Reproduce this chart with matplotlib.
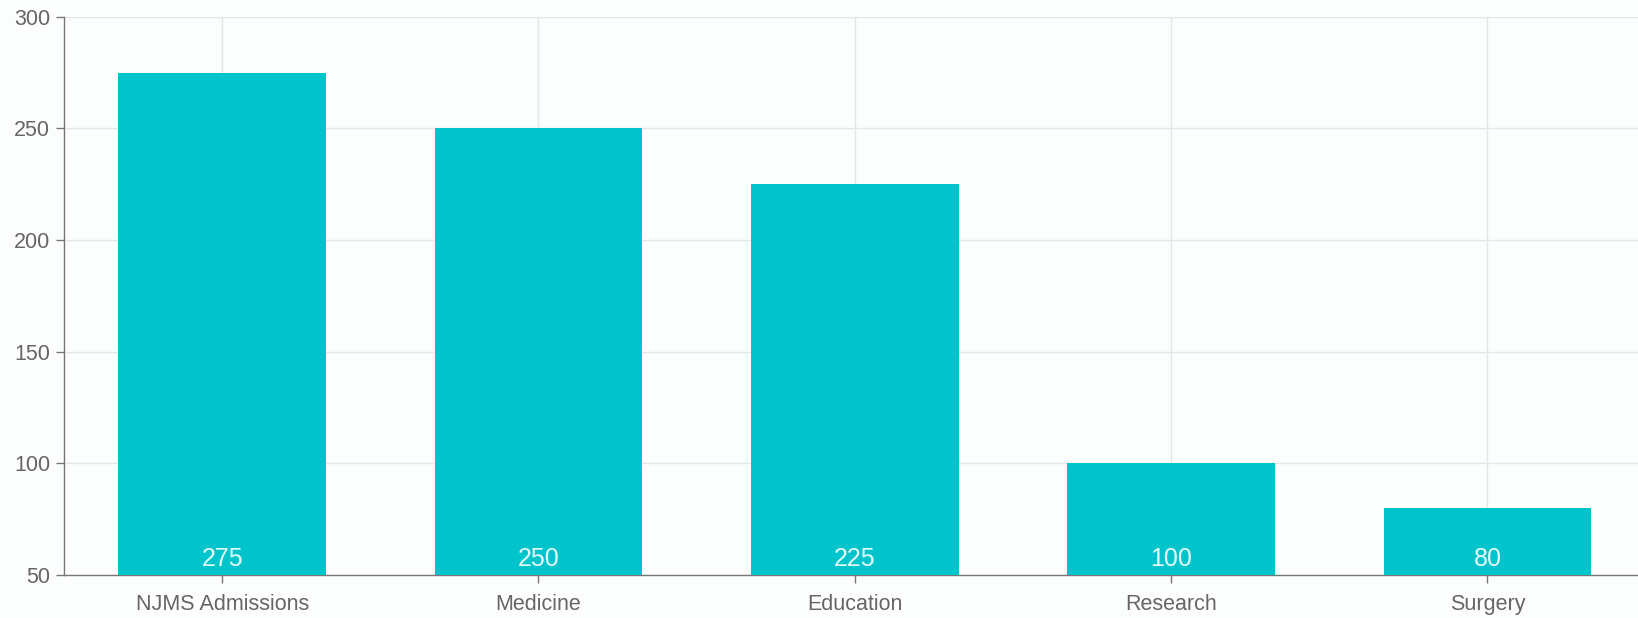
import matplotlib
matplotlib.use("Agg")
import matplotlib.pyplot as plt

categories = ["NJMS Admissions", "Medicine", "Education", "Research", "Surgery"]
values = [275, 250, 225, 100, 80]
y_ticks = [50, 100, 150, 200, 250, 300]

plt.rcParams['font.family'] = ['Liberation Sans', 'DejaVu Sans']

fig = plt.figure(figsize=(16.38, 6.18), dpi=100)
fig.patch.set_facecolor('#fcfdfd')
ax = fig.add_axes([64/1638, 1-575/618, 1-64/1638, (575-16.7)/618])
ax.set_facecolor('#fcfdfd')

x = list(range(len(categories)))
ax.bar(x, [v - 50 for v in values], bottom=50, width=0.656, color='#00c4cc', zorder=3)

for xi, v in zip(x, values):
    ax.annotate(str(v), xy=(xi, 50), xytext=(0, 4), textcoords='offset pixels',
                ha='center', va='bottom', fontsize=18, color='#e6fafb', zorder=4)

ax.set_ylim(50, 300)
ax.set_xlim(-0.5, 4.476)
ax.set_yticks(y_ticks)
ax.set_xticks(x)
ax.set_xticklabels(categories)

ax.grid(True, color='#e4e6e8', linewidth=1, zorder=0)
for s in ['top', 'right']:
    ax.spines[s].set_visible(False)
for s in ['left', 'bottom']:
    ax.spines[s].set_color('#777777')
    ax.spines[s].set_linewidth(1)

ax.tick_params(axis='both', colors='#777777', labelcolor='#666666', labelsize=15.5,
               length=6, width=1)
ax.tick_params(axis='x', pad=8)
ax.tick_params(axis='y', pad=4)

fig.savefig('out.png', dpi=100, facecolor=fig.get_facecolor())
